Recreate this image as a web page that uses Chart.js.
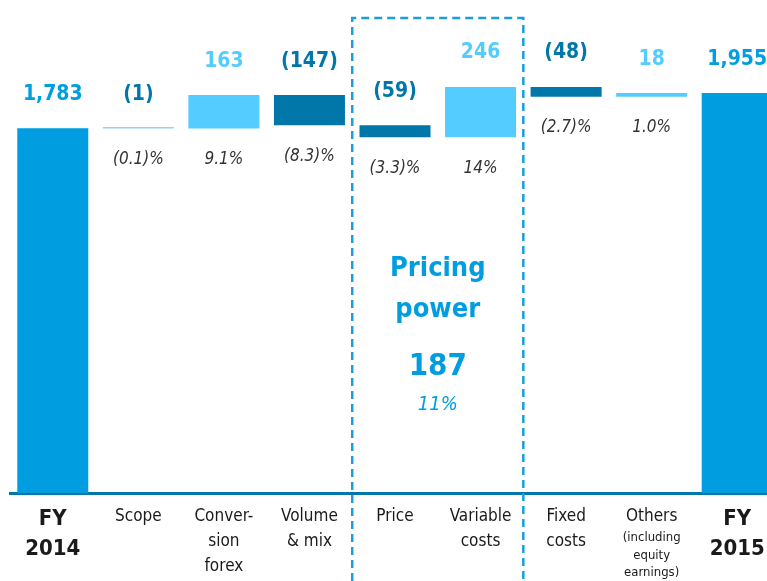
<!DOCTYPE html>
<html>
<head>
<meta charset="UTF-8">
<style>
    html, body { margin: 0; padding: 0; background: #fff; overflow: hidden; }
    #wrap { width: 790px; height: 581px; }
</style>
</head>
<body>
<div id="wrap">
    <canvas id="myChart" width="790" height="581"></canvas>
</div>

<script src="https://cdn.jsdelivr.net/npm/chart.js"></script>

<script>
    // данные
    const categories = ['FY 2014', 'Scope', 'Conversion forex', 'Volume & mix', 'Price',
                        'Variable costs', 'Fixed costs', 'Others', 'FY 2015'];
    const labelLines = [['FY', '2014'], ['Scope'], ['Conver-', 'sion', 'forex'], ['Volume', '& mix'],
                        ['Price'], ['Variable', 'costs'], ['Fixed', 'costs'], ['Others'], ['FY', '2015']];
    const othersNote = ['(including', 'equity', 'earnings)'];
    const startValue = 1783;
    const endValue = 1955;
    const deltas = [-1, 163, -147, -59, 246, -48, 18];
    const valueLabels = ['1,783', '(1)', '163', '(147)', '(59)', '246', '(48)', '18', '1,955'];
    const pctLabels = ['', '(0.1)%', '9.1%', '(8.3)%', '(3.3)%', '14%', '(2.7)%', '1.0%', ''];
    const pricingTitle = ['Pricing', 'power'];
    const pricingValue = '187';
    const pricingPct = '11%';

    const FONT = '"DejaVu Sans Condensed", "Liberation Sans Narrow", Roboto, sans-serif';
    const C_TOTAL = '#009ee0';
    const C_UP = '#55ccff';
    const C_DOWN = '#0077a8';
    const C_TINY = '#8fd3f0';

    // строим водопад
    const bars = [[0, startValue]];
    const colors = [C_TOTAL];
    const textColors = [C_TOTAL];
    let level = startValue;
    deltas.forEach(d => {
        bars.push([level, level + d]);
        colors.push(Math.abs(d) < 5 ? C_TINY : (d >= 0 ? C_UP : C_DOWN));
        textColors.push(d >= 0 ? C_UP : C_DOWN);
        level += d;
    });
    bars.push([0, endValue]);
    colors.push(C_TOTAL);
    textColors.push(C_TOTAL);

    const textPlugin = {
        id: 'texts',
        afterDatasetsDraw(chart) {
            const ctx = chart.ctx;
            const x = chart.scales.x;
            const y = chart.scales.y;
            ctx.save();
            ctx.textAlign = 'center';
            ctx.textBaseline = 'middle';

            // значения и проценты
            bars.forEach((b, i) => {
                const cx = x.getPixelForValue(i);
                const top = y.getPixelForValue(Math.max(b[0], b[1]));
                const bottom = y.getPixelForValue(Math.min(b[0], b[1]));
                ctx.font = 'bold 21px ' + FONT;
                ctx.fillStyle = textColors[i];
                ctx.fillText(valueLabels[i], cx, top - 34);
                if (pctLabels[i]) {
                    ctx.font = 'italic 17px ' + FONT;
                    ctx.fillStyle = '#333333';
                    ctx.fillText(pctLabels[i], cx, bottom + 31);
                }
            });

            // подписи категорий
            const base = y.getPixelForValue(0);
            labelLines.forEach((lines, i) => {
                const cx = x.getPixelForValue(i);
                const total = i === 0 || i === labelLines.length - 1;
                ctx.fillStyle = '#1a1a1a';
                if (total) {
                    ctx.font = 'bold 22px ' + FONT;
                    lines.forEach((t, k) => ctx.fillText(t, cx, base + 26 + k * 30));
                } else {
                    ctx.font = '17px ' + FONT;
                    lines.forEach((t, k) => ctx.fillText(t, cx, base + 24 + k * 25));
                }
            });
            const oi = categories.indexOf('Others');
            ctx.font = '13px ' + FONT;
            othersNote.forEach((t, k) => ctx.fillText(t, x.getPixelForValue(oi), base + 45 + k * 17.5));

            // рамка pricing power
            const left = (x.getPixelForValue(3) + x.getPixelForValue(4)) / 2;
            const right = (x.getPixelForValue(5) + x.getPixelForValue(6)) / 2;
            ctx.strokeStyle = '#1a9fdb';
            ctx.lineWidth = 2.5;
            ctx.setLineDash([8, 5]);
            ctx.beginPath();
            ctx.moveTo(left, chart.height);
            ctx.lineTo(left, 18);
            ctx.lineTo(right, 18);
            ctx.lineTo(right, chart.height);
            ctx.stroke();
            ctx.setLineDash([]);

            const mid = (left + right) / 2;
            ctx.fillStyle = C_TOTAL;
            ctx.font = 'bold 27px ' + FONT;
            ctx.fillText(pricingTitle[0], mid, 269);
            ctx.fillText(pricingTitle[1], mid, 310);
            ctx.font = 'bold 31px ' + FONT;
            ctx.fillText(pricingValue, mid, 367);
            ctx.font = 'italic 20px ' + FONT;
            ctx.fillText(pricingPct, mid, 405);
            ctx.restore();
        }
    };

    new Chart(document.getElementById('myChart'), {
        type: 'bar',
        data: {
            labels: categories,
            datasets: [{
                data: bars,
                backgroundColor: colors,
                borderWidth: 0,
                minBarLength: 1.5,
                barPercentage: 0.83,
                categoryPercentage: 1
            }]
        },
        options: {
            responsive: false,
            animation: false,
            layout: { padding: { left: 10, right: 10, top: 0, bottom: 88 } },
            plugins: { legend: { display: false }, tooltip: { enabled: false } },
            scales: {
                x: {
                    ticks: { display: false },
                    grid: { display: false, drawTicks: false },
                    border: { display: true, color: C_DOWN, width: 3 }
                },
                y: {
                    display: false,
                    min: 0,
                    max: 2410
                }
            }
        },
        plugins: [textPlugin]
    });
</script>
</body>
</html>
